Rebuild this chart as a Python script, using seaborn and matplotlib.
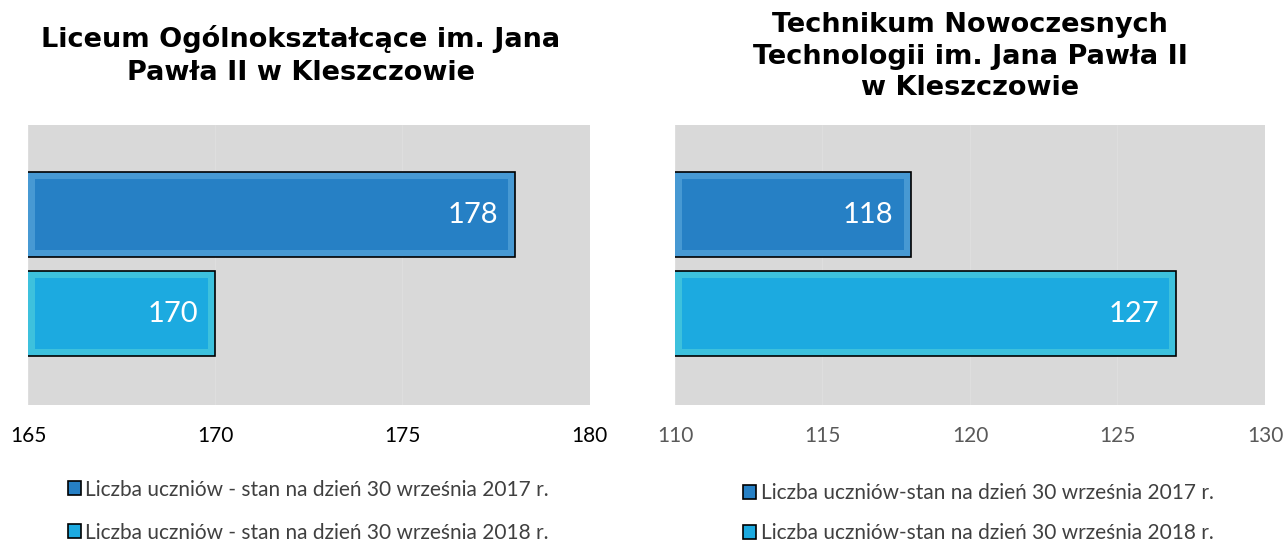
import numpy as np
import pandas as pd
import seaborn as sns
import matplotlib
matplotlib.use('Agg')
import matplotlib.pyplot as plt
from matplotlib.patches import Patch

sns.set_theme(style='white')
plt.rcParams['font.family'] = ['Lato', 'DejaVu Sans']

# data
years = ['2017', '2018']
liceum_values = [178, 170]
technikum_values = [118, 127]
liceum_title = 'Liceum Ogólnokształcące im. Jana\nPawła II w Kleszczowie'
technikum_title = 'Technikum Nowoczesnych\nTechnologii im. Jana Pawła II\nw Kleszczowie'
liceum_ticks = [165, 170, 175, 180]
technikum_ticks = [110, 115, 120, 125, 130]
liceum_legend = ['Liczba uczniów - stan na dzień 30 września 2017 r.',
                 'Liczba uczniów - stan na dzień 30 września 2018 r.']
technikum_legend = ['Liczba uczniów-stan na dzień 30 września 2017 r.',
                    'Liczba uczniów-stan na dzień 30 września 2018 r.']

fill_colors = ['#2680C5', '#1CAAE0']
bevel_colors = ['#2F9DEB', '#22D2F8']
bg = '#D9D9D9'

fig = plt.figure(figsize=(12.85, 5.44), dpi=100)
ax1 = fig.add_axes([0.0218, 0.2555, 0.437, 0.5147])
ax2 = fig.add_axes([0.5253, 0.2555, 0.4591, 0.5147])


def draw(ax, values, ticks, tick_color, title, title_xy, spacing,
         legend_labels, legend_xy, legend_gap):
    df = pd.DataFrame({'year': years, 'value': values})
    sns.barplot(data=df, x='value', y='year', hue='year', palette=bevel_colors,
                orient='h', width=0.86, edgecolor='black', linewidth=1.2,
                legend=False, ax=ax)
    x0, x1 = ticks[0], ticks[-1]
    ax.set_xlim(x0, x1)
    ax.set_ylim(1.924, -0.904)
    # inner face of the bevelled bars
    span = x1 - x0
    dx = span * 0.012
    for i, v in enumerate(values):
        ax.barh(i, (v - x0) - 2 * dx, left=x0 + dx, height=0.86 - 0.14,
                color=fill_colors[i], linewidth=0, zorder=3)
        ax.text(v - span * 0.03, i, str(v), ha='right', va='center',
                color='white', fontsize=21, zorder=4)
    ax.set_facecolor(bg)
    ax.set_xticks(ticks)
    ax.set_xticklabels([str(t) for t in ticks], fontsize=15, color=tick_color)
    ax.tick_params(axis='x', length=0, pad=15)
    ax.set_yticks([])
    ax.set_xlabel('')
    ax.set_ylabel('')
    ax.grid(axis='x', color='#DEDEDE', linewidth=1)
    ax.set_axisbelow(True)
    for s in ax.spines.values():
        s.set_visible(False)
    fig.text(title_xy[0], title_xy[1], title, ha='center', va='top',
             fontsize=19.5, fontweight='bold', family='DejaVu Sans',
             color='black', linespacing=spacing)
    handles = [Patch(facecolor=fill_colors[i], edgecolor='black', linewidth=1.2)
               for i in range(2)]
    fig.legend(handles, legend_labels, loc='upper left', bbox_to_anchor=legend_xy,
               frameon=False, fontsize=15, labelcolor='#404040',
               handlelength=0.65, handleheight=0.65, handletextpad=0.2,
               labelspacing=legend_gap)


draw(ax1, liceum_values, liceum_ticks, 'black', liceum_title, (0.234, 0.954), 1.35,
     liceum_legend, (0.038, 0.1526), 1.1)
draw(ax2, technikum_values, technikum_ticks, '#595959', technikum_title, (0.755, 0.978), 1.28,
     technikum_legend, (0.5635, 0.146), 0.95)

fig.savefig('out.png', dpi=100)
